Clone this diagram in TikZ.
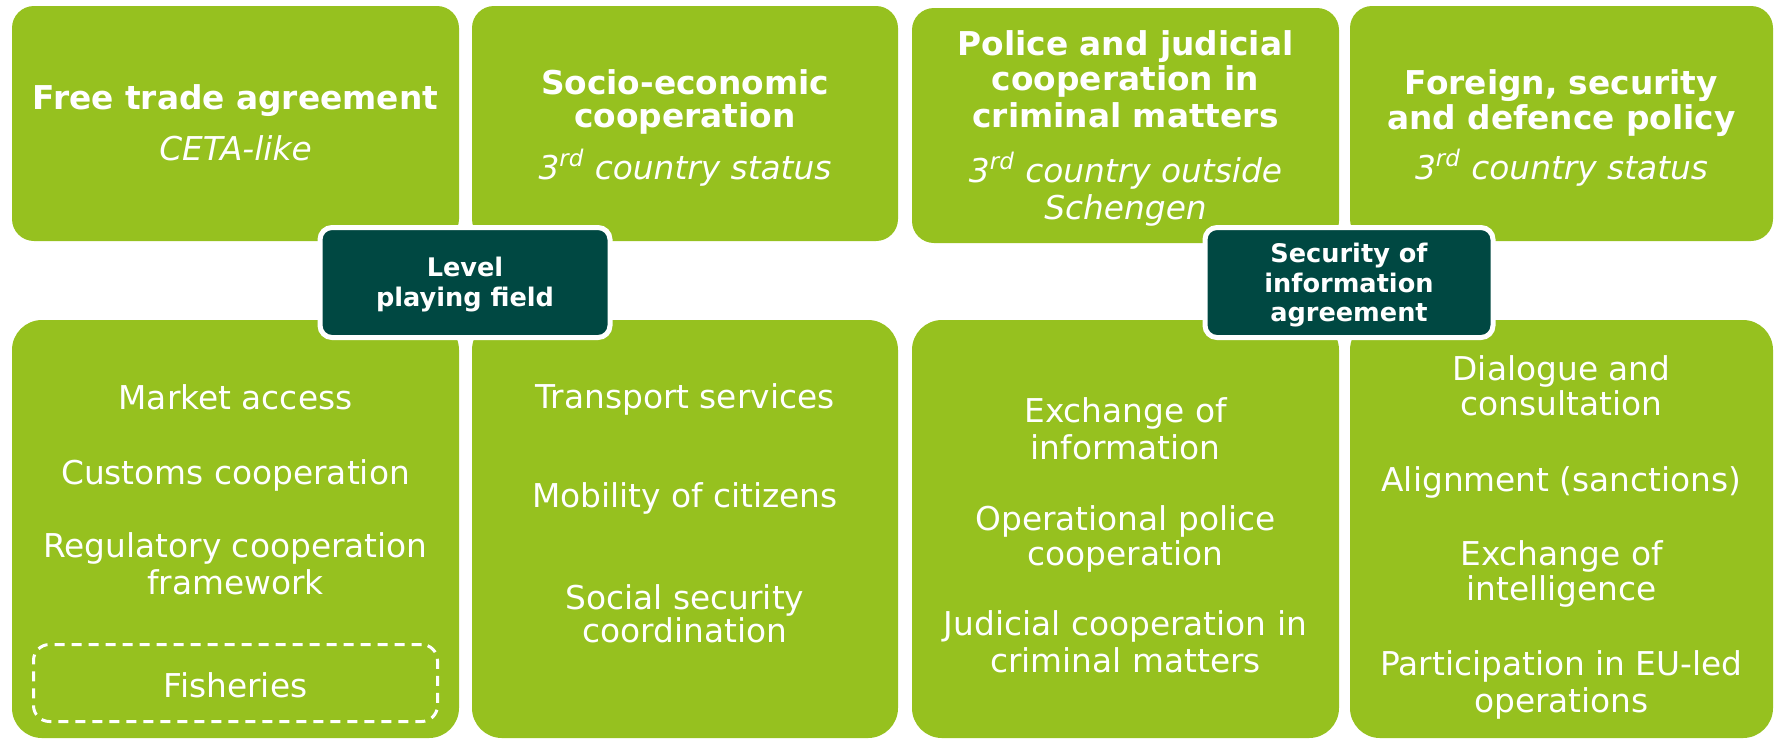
\documentclass[tikz,border=0pt]{standalone}
\usepackage{fontspec}
\setmainfont{DejaVu Sans}
\definecolor{eugreen}{HTML}{96C11F}
\definecolor{eudark}{HTML}{004842}
\begin{document}
\begin{tikzpicture}[x=0.5pt, y=-0.5pt,
    topbox/.style={fill=eugreen, rounded corners=11pt, inner sep=0pt, minimum height=117.5pt},
    lowbox/.style={fill=eugreen, rounded corners=15pt, inner sep=0pt, minimum height=209pt},
    tagbox/.style={fill=eudark, draw=white, line width=2.5pt, rounded corners=6pt, inner sep=0pt, minimum width=145pt, minimum height=55pt},
    dashbox/.style={draw=white, line width=1.5pt, dash pattern=on 5pt off 3.5pt, rounded corners=8pt, inner sep=0pt, minimum width=202pt, minimum height=38.5pt},
    txt/.style={text=white, anchor=base, inner sep=0pt},
    head/.style={txt, font=\bfseries\fontsize{16.4}{18}\selectfont},
    sub/.style={txt, font=\itshape\fontsize{16.4}{18}\selectfont},
    item/.style={txt, font=\fontsize{16.4}{18}\selectfont},
    tagtext/.style={txt, font=\bfseries\fontsize{12.8}{15}\selectfont}]
    \useasboundingbox (0,0) rectangle (1774,741);
    % top row
    \node[topbox, minimum width=223.5pt] (fta) at (235.5,123.5) {};
    \node[topbox, minimum width=213pt] (soc) at (685,123.5) {};
    \node[topbox, minimum width=213.5pt] (pol) at (1125.5,125.5) {};
    \node[topbox, minimum width=211.5pt] (fsd) at (1561.5,123.5) {};
    % bottom row
    \node[lowbox, minimum width=223.5pt] (fta-l) at (235.5,529) {};
    \node[lowbox, minimum width=213pt] (soc-l) at (685,529) {};
    \node[lowbox, minimum width=213.5pt] (pol-l) at (1125.5,529) {};
    \node[lowbox, minimum width=211.5pt] (fsd-l) at (1561.5,529) {};
    % headings
    \node[head] (fta-h1) at (235.5,109) {Free trade agreement};
    \node[sub] (fta-s1) at (235.5,160) {CETA-like};
    \node[head] (soc-h1) at (685,94) {Socio-economic};
    \node[head] (soc-h2) at (685,127) {cooperation};
    \node[sub] (soc-s1) at (685,179) {3\textsuperscript{rd} country status};
    \node[head] (pol-h1) at (1125.5,55) {Police and judicial};
    \node[head] (pol-h2) at (1125.5,90) {cooperation in};
    \node[head] (pol-h3) at (1125.5,127) {criminal matters};
    \node[sub] (pol-s1) at (1125.5,182) {3\textsuperscript{rd} country outside};
    \node[sub] (pol-s2) at (1125.5,219) {Schengen};
    \node[head] (fsd-h1) at (1561.5,94) {Foreign, security};
    \node[head] (fsd-h2) at (1561.5,129) {and defence policy};
    \node[sub] (fsd-s1) at (1561.5,179) {3\textsuperscript{rd} country status};
    % contents
    \foreach \y/\txt [count=\i] in {409/Market access, 484/Customs cooperation,
        557/Regulatory cooperation, 594/framework}
        \node[item] (fta-\i) at (235.5,\y) {\txt};
    \node[dashbox] (fish-box) at (235.5,683) {};
    \node[item] (fish) at (235.5,697) {Fisheries};
    \foreach \y/\txt [count=\i] in {408/Transport services, 507/Mobility of citizens,
        609/Social security, 642/coordination}
        \node[item] (soc-\i) at (685,\y) {\txt};
    \foreach \y/\txt [count=\i] in {422/Exchange of, 459/information,
        530/Operational police, 565/cooperation,
        635/Judicial cooperation in, 672/criminal matters}
        \node[item] (pol-\i) at (1125.5,\y) {\txt};
    \foreach \y/\txt [count=\i] in {380/Dialogue and, 415/consultation,
        491/Alignment (sanctions), 565/Exchange of, 600/intelligence,
        675/Participation in EU-led, 712/operations}
        \node[item] (fsd-\i) at (1561.5,\y) {\txt};
    % linking agreements
    \node[tagbox] (lpf) at (465,282.5) {};
    \node[tagtext] (lpf-1) at (465,276) {Level};
    \node[tagtext] (lpf-2) at (465,306) {playing field};
    \node[tagbox, minimum width=144pt] (soi) at (1349,282.5) {};
    \node[tagtext] (soi-1) at (1349,262) {Security of};
    \node[tagtext] (soi-2) at (1349,292) {information};
    \node[tagtext] (soi-3) at (1349,321) {agreement};
\end{tikzpicture}
\end{document}
